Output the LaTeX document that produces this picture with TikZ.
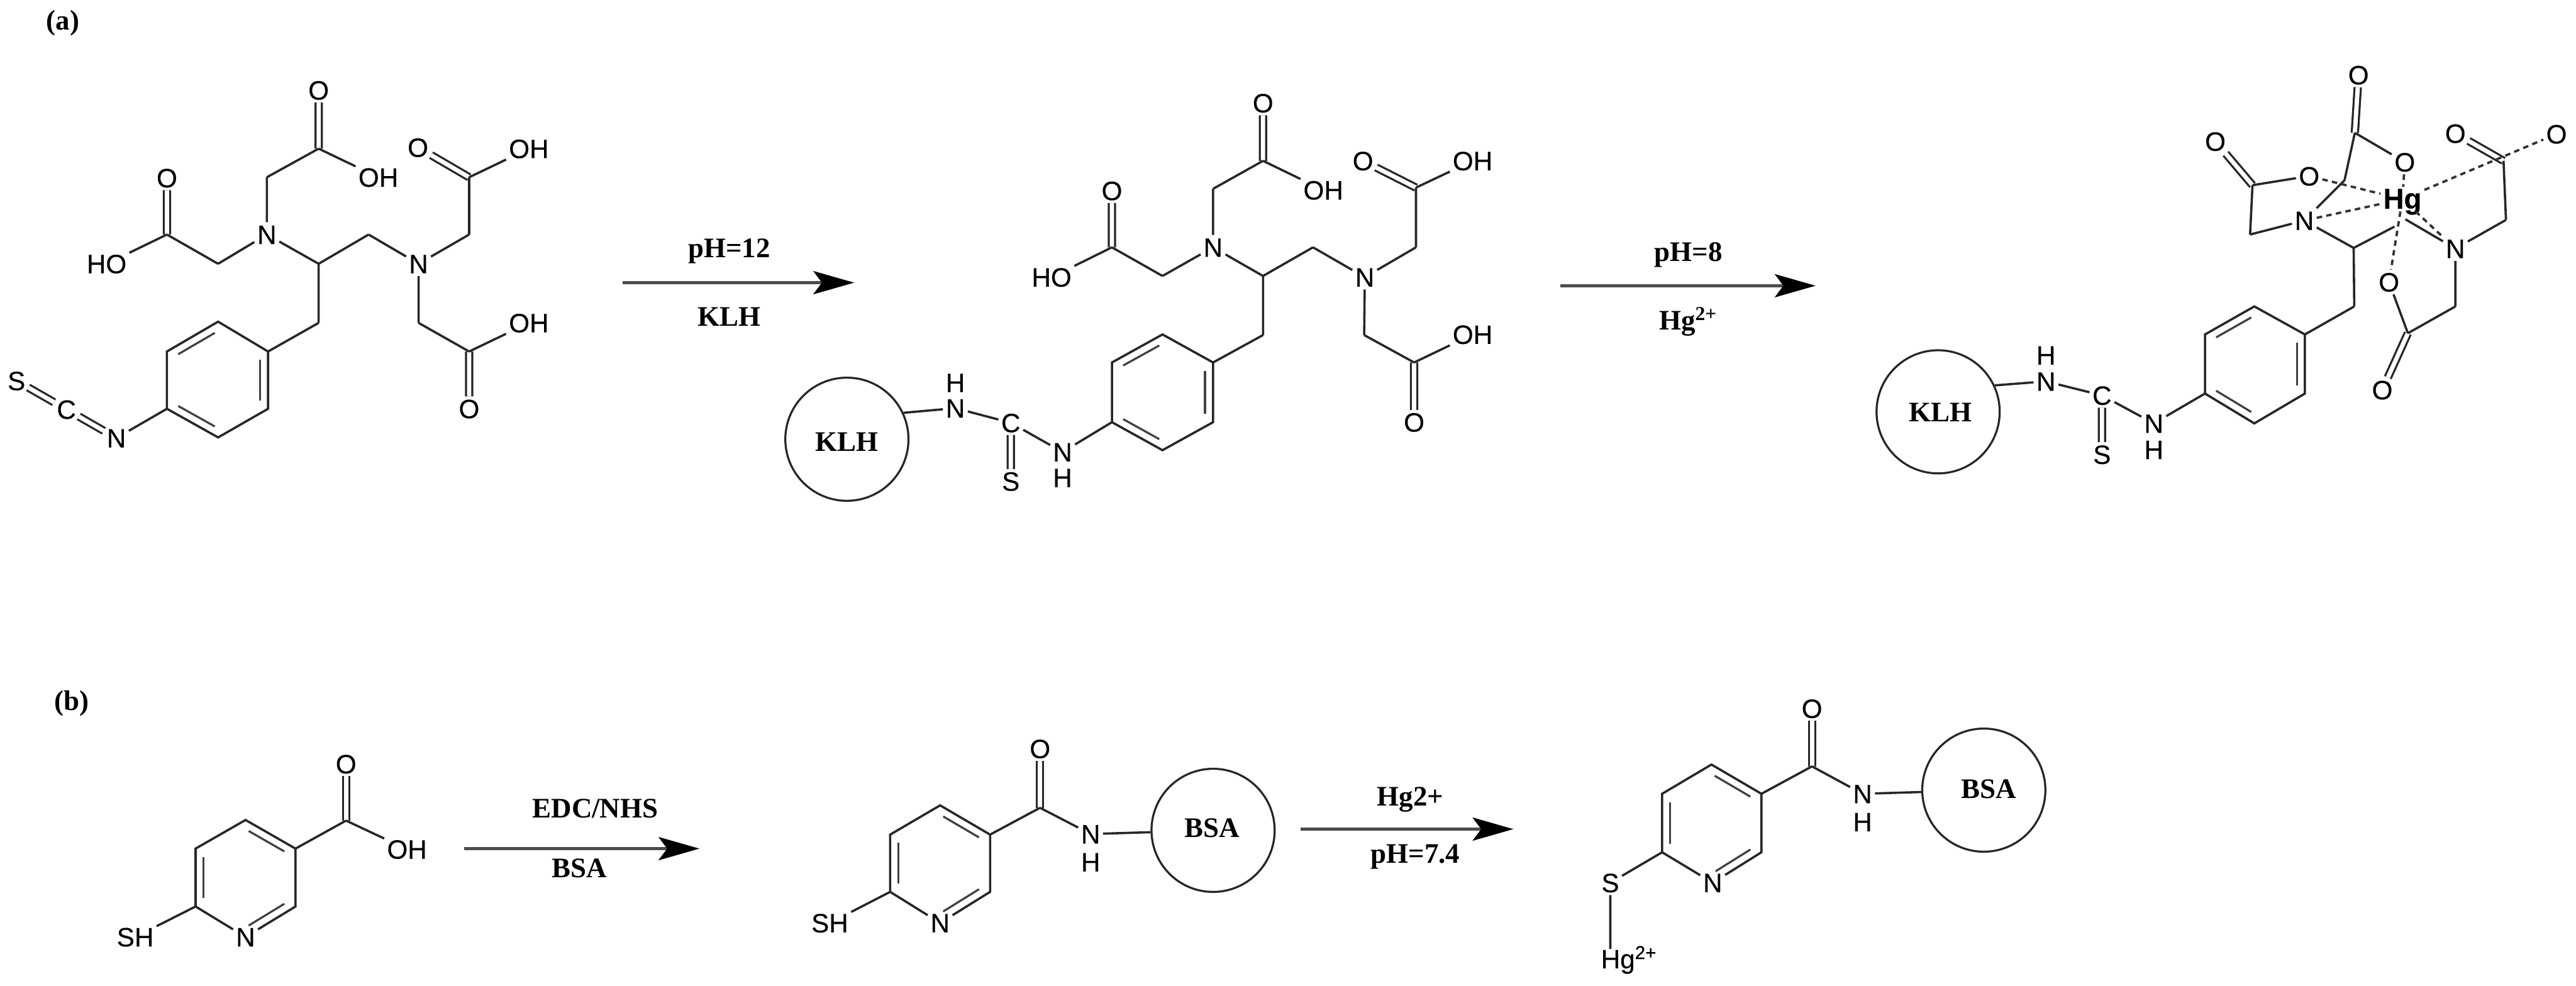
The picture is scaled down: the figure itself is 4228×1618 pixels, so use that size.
\documentclass[tikz,border=0pt]{standalone}
\usepackage{fontspec}
\setmainfont{Liberation Serif}
\newfontfamily\atomfont[FakeBold=0.35]{Liberation Sans}
\usetikzlibrary{
    arrows.meta,
    calc
}
\tikzset{
    bond/.style={line width=1.05pt, draw=black!85},
    dbl/.style={double=white, double distance=0.07cm, line width=0.95pt, draw=black!85},
    ringin/.style={line width=0.95pt, draw=black!75, shorten <=0.06cm, shorten >=0.06cm},
    coord/.style={line width=1.1pt, draw=black!80, dash pattern=on 0.09cm off 0.07cm},
    atom/.style={font=\atomfont\fontsize{12.4}{14}\selectfont, inner sep=0.04cm, text height=0.31cm, text depth=0pt},
    rgnt/.style={font=\bfseries\fontsize{13.2}{15}\selectfont, inner sep=0pt},
    prot/.style={circle, draw=black!85, line width=0.95pt, minimum size=2.02cm, inner sep=0pt},
    rxn/.style={line width=1.3pt, draw=black!70, -{Stealth[length=0.67cm, width=0.38cm, inset=0.14cm, black]}}
}
\begin{document}
\begin{tikzpicture}[x=0.01cm, y=-0.01cm]
    \useasboundingbox (0, 0) rectangle (4228, 1618);
    \node[rgnt] (tagA) at (103, 38) {(a)};
    \node[rgnt] (tagB) at (118, 1155) {(b)};
    \begin{scope}
        \node[atom] (otop) at (523, 148) {O};
        \coordinate (c1) at (523, 244);
        \node[atom] (oh1) at (621, 291) {OH};
        \coordinate (m1) at (438, 291);
        \node[atom] (n1) at (438, 385) {N};
        \coordinate (c2) at (274, 385);
        \node[atom] (o2) at (274, 292) {O};
        \node[atom] (ho2) at (175, 433) {HO};
        \coordinate (m2) at (358, 433);
        \coordinate (ch) at (523, 433);
        \coordinate (m3) at (605, 385);
        \node[atom] (n2) at (687, 433) {N};
        \coordinate (m4) at (770, 385);
        \coordinate (c3) at (770, 291);
        \node[atom] (o3) at (686, 242) {O};
        \node[atom] (oh3) at (868, 244) {OH};
        \coordinate (m5) at (687, 530);
        \coordinate (c4) at (770, 577);
        \node[atom] (oh4) at (868, 530) {OH};
        \node[atom] (o4) at (770, 671) {O};
        \coordinate (mb) at (523, 530);
        \coordinate (r1) at (440, 577);
        \coordinate (r2) at (358, 528);
        \coordinate (r3) at (274, 577);
        \coordinate (r4) at (274, 671);
        \coordinate (r5) at (358, 718);
        \coordinate (r6) at (440, 671);
        \coordinate (rc) at ($(r1)!0.5!(r4)$);
        \node[atom] (nb) at (191, 719) {N};
        \node[atom] (cb) at (109, 672) {C};
        \node[atom] (sb) at (27, 625) {S};
        \draw[dbl]
        (c1) -- (otop)
        (c2) -- (o2)
        (c3) -- (o3)
        (c4) -- (o4)
        (sb) -- (cb)
        (cb) -- (nb);
        \draw[bond]
        (c1) -- (oh1)
        (c1) -- (m1)
        (m1) -- (n1)
        (n1) -- (m2)
        (m2) -- (c2)
        (c2) -- (ho2)
        (n1) -- (ch)
        (ch) -- (m3)
        (m3) -- (n2)
        (n2) -- (m4)
        (m4) -- (c3)
        (c3) -- (oh3)
        (n2) -- (m5)
        (m5) -- (c4)
        (c4) -- (oh4)
        (ch) -- (mb)
        (mb) -- (r1)
        (r1) -- (r2) -- (r3) -- (r4) -- (r5) -- (r6) -- (r1)
        (r4) -- (nb);
        \foreach \a/\b in {r2/r3, r1/r6, r4/r5}
            \draw[ringin] ($(\a)!0.16!(rc)$) -- ($(\b)!0.16!(rc)$);
    \end{scope}
    \coordinate (a1s) at (1022, 464);
    \coordinate (a1e) at (1402, 464);
    \draw[rxn] (a1s) -- (a1e);
    \node[rgnt] (a1t) at (1197, 412) {pH=12};
    \node[rgnt] (a1b) at (1197, 520) {KLH};
    \begin{scope}
        \node[atom] (otop) at (2073, 169) {O};
        \coordinate (c1) at (2073, 264);
        \node[atom] (oh1) at (2172, 312) {OH};
        \coordinate (m1) at (1991, 310);
        \node[atom] (n1) at (1991, 406) {N};
        \coordinate (c2) at (1825, 406);
        \node[atom] (o2) at (1825, 313) {O};
        \node[atom] (ho2) at (1726, 455) {HO};
        \coordinate (m2) at (1908, 453);
        \coordinate (ch) at (2073, 453);
        \coordinate (m3) at (2155, 406);
        \node[atom] (n2) at (2240, 455) {N};
        \coordinate (m4) at (2324, 406);
        \coordinate (c3) at (2324, 308);
        \node[atom] (o3) at (2237, 264) {O};
        \node[atom] (oh3) at (2417, 264) {OH};
        \coordinate (m5) at (2239, 550);
        \coordinate (c4) at (2321, 595);
        \node[atom] (oh4) at (2417, 549) {OH};
        \node[atom] (o4) at (2321, 693) {O};
        \coordinate (mb) at (2073, 550);
        \coordinate (r1) at (1991, 595);
        \coordinate (r2) at (1908, 549);
        \coordinate (r3) at (1825, 595);
        \coordinate (r4) at (1825, 693);
        \coordinate (r5) at (1908, 739);
        \coordinate (r6) at (1991, 693);
        \coordinate (rc) at ($(r1)!0.5!(r4)$);
        \node[atom] (nl) at (1744, 742) {N};
        \node[atom] (hl) at (1744, 784) {H};
        \node[atom] (cu) at (1659, 694) {C};
        \node[atom] (su) at (1659, 790) {S};
        \node[atom] (nu) at (1568, 670) {N};
        \node[atom] (hu) at (1568, 628) {H};
        \node[prot] (klh) at (1390, 721) {};
        \node[rgnt] (klht) at (1390, 725) {KLH};
        \draw[dbl]
        (c1) -- (otop)
        (c2) -- (o2)
        (c3) -- (o3)
        (c4) -- (o4)
        (cu) -- (su);
        \draw[bond]
        (c1) -- (oh1)
        (c1) -- (m1)
        (m1) -- (n1)
        (n1) -- (m2)
        (m2) -- (c2)
        (c2) -- (ho2)
        (n1) -- (ch)
        (ch) -- (m3)
        (m3) -- (n2)
        (n2) -- (m4)
        (m4) -- (c3)
        (c3) -- (oh3)
        (n2) -- (m5)
        (m5) -- (c4)
        (c4) -- (oh4)
        (ch) -- (mb)
        (mb) -- (r1)
        (r1) -- (r2) -- (r3) -- (r4) -- (r5) -- (r6) -- (r1)
        (r4) -- (nl)
        (nl) -- (cu)
        (cu) -- (nu)
        (nu) -- (klh.25);
        \foreach \a/\b in {r2/r3, r1/r6, r4/r5}
            \draw[ringin] ($(\a)!0.16!(rc)$) -- ($(\b)!0.16!(rc)$);
    \end{scope}
    \coordinate (a2s) at (2561, 469);
    \coordinate (a2e) at (2980, 469);
    \draw[rxn] (a2s) -- (a2e);
    \node[rgnt] (a2t) at (2771, 418) {pH=8};
    \node[rgnt] (a2b) at (2771, 528) {Hg\textsuperscript{2+}};
    \begin{scope}
        \node[atom] (otop) at (3871, 123) {O};
        \coordinate (c1) at (3865, 218);
        \node[atom] (or) at (3947, 266) {O};
        \node[atom] (ol) at (3790, 289) {O};
        \coordinate (c2) at (3697, 304);
        \node[atom] (oll) at (3636, 232) {O};
        \coordinate (m2) at (3693, 385);
        \node[atom] (n1) at (3782, 362) {N};
        \coordinate (m1) at (3848, 296);
        \node[atom, font=\atomfont\bfseries\fontsize{13.4}{15}\selectfont] (hg) at (3943, 327) {Hg};
        \coordinate (ch) at (3863, 407);
        \coordinate (m3a) at (3930, 372);
        \coordinate (m3b) at (3948, 360);
        \node[atom] (n2) at (4030, 408) {N};
        \coordinate (m4) at (4113, 361);
        \coordinate (c3) at (4109, 264);
        \node[atom] (o3) at (4030, 219) {O};
        \node[atom] (o3r) at (4196, 220) {O};
        \coordinate (m5) at (4030, 503);
        \coordinate (c4) at (3952, 547);
        \node[atom] (o4) at (3921, 463) {O};
        \node[atom] (o4d) at (3910, 640) {O};
        \coordinate (mb) at (3864, 503);
        \coordinate (r1) at (3783, 549);
        \coordinate (r2) at (3700, 503);
        \coordinate (r3) at (3619, 549);
        \coordinate (r4) at (3619, 646);
        \coordinate (r5) at (3700, 695);
        \coordinate (r6) at (3783, 646);
        \coordinate (rc) at ($(r1)!0.5!(r4)$);
        \node[atom] (nl) at (3535, 695) {N};
        \node[atom] (hl) at (3535, 738) {H};
        \node[atom] (cu) at (3450, 649) {C};
        \node[atom] (su) at (3450, 746) {S};
        \node[atom] (nu) at (3358, 626) {N};
        \node[atom] (hu) at (3358, 583) {H};
        \node[prot] (klh) at (3181, 676) {};
        \node[rgnt] (klht) at (3185, 677) {KLH};
        \draw[dbl]
        (c1) -- (otop)
        (c2) -- (oll)
        (c3) -- (o3)
        (c4) -- (o4d)
        (cu) -- (su);
        \draw[bond]
        (c1) -- (or)
        (c1) -- (m1)
        (m1) -- (n1)
        (ol) -- (c2)
        (c2) -- (m2)
        (m2) -- (n1)
        (n1) -- (ch)
        (ch) -- (m3a)
        (m3b) -- (n2)
        (n2) -- (m4)
        (m4) -- (c3)
        (n2) -- (m5)
        (m5) -- (c4)
        (c4) -- (o4)
        (ch) -- (mb)
        (mb) -- (r1)
        (r1) -- (r2) -- (r3) -- (r4) -- (r5) -- (r6) -- (r1)
        (r4) -- (nl)
        (nl) -- (cu)
        (cu) -- (nu)
        (nu) -- (klh.25);
        \draw[coord]
        (ol) -- (hg)
        (n1) -- (hg)
        (or) -- (hg)
        (hg) -- (o3r)
        (hg) -- (n2)
        (hg) -- (o4);
        \foreach \a/\b in {r2/r3, r1/r6, r4/r5}
            \draw[ringin] ($(\a)!0.16!(rc)$) -- ($(\b)!0.16!(rc)$);
    \end{scope}
    \begin{scope}
        \node[atom] (otop) at (568, 1254) {O};
        \coordinate (c1) at (568, 1347);
        \node[atom] (oh1) at (668, 1394) {OH};
        \coordinate (r1) at (485, 1393);
        \coordinate (r2) at (403, 1346);
        \coordinate (r3) at (321, 1393);
        \coordinate (r4) at (321, 1488);
        \node[atom] (rn) at (403, 1538) {N};
        \coordinate (r6) at (485, 1488);
        \coordinate (rc) at ($(r1)!0.5!(r4)$);
        \node[atom] (sh) at (222, 1538) {SH};
        \draw[dbl] (c1) -- (otop);
        \draw[bond]
        (c1) -- (oh1)
        (c1) -- (r1)
        (r1) -- (r2) -- (r3) -- (r4) -- (rn) -- (r6) -- (r1)
        (r4) -- (sh);
        \foreach \a/\b in {r1/r2, r3/r4, r6/rn}
            \draw[ringin] ($(\a)!0.16!(rc)$) -- ($(\b)!0.16!(rc)$);
    \end{scope}
    \coordinate (b1s) at (762, 1393);
    \coordinate (b1e) at (1148, 1393);
    \draw[rxn] (b1s) -- (b1e);
    \node[rgnt] (b1t) at (977, 1327) {EDC/NHS};
    \node[rgnt] (b1b) at (951, 1425) {BSA};
    \begin{scope}
        \node[atom] (otop) at (1707, 1229) {O};
        \coordinate (c1) at (1707, 1326);
        \node[atom] (nh) at (1790, 1369) {N};
        \node[atom] (hh) at (1790, 1415) {H};
        \coordinate (r1) at (1625, 1370);
        \coordinate (r2) at (1543, 1322);
        \coordinate (r3) at (1461, 1370);
        \coordinate (r4) at (1461, 1464);
        \node[atom] (rn) at (1543, 1515) {N};
        \coordinate (r6) at (1625, 1464);
        \coordinate (rc) at ($(r1)!0.5!(r4)$);
        \node[atom] (sh) at (1362, 1515) {SH};
        \node[prot] (bsa) at (1991, 1363) {};
        \node[rgnt] (bsat) at (1989, 1359) {BSA};
        \draw[dbl] (c1) -- (otop);
        \draw[bond]
        (c1) -- (nh)
        (c1) -- (r1)
        (r1) -- (r2) -- (r3) -- (r4) -- (rn) -- (r6) -- (r1)
        (r4) -- (sh)
        (nh) -- (bsa);
        \foreach \a/\b in {r1/r2, r3/r4, r6/rn}
            \draw[ringin] ($(\a)!0.16!(rc)$) -- ($(\b)!0.16!(rc)$);
    \end{scope}
    \coordinate (b2s) at (2135, 1361);
    \coordinate (b2e) at (2484, 1361);
    \draw[rxn] (b2s) -- (b2e);
    \node[rgnt] (b2t) at (2315, 1313) {Hg2+};
    \node[rgnt] (b2b) at (2323, 1406) {pH=7.4};
    \begin{scope}
        \node[atom] (otop) at (2974, 1163) {O};
        \coordinate (c1) at (2974, 1258);
        \node[atom] (nh) at (3057, 1303) {N};
        \node[atom] (hh) at (3057, 1349) {H};
        \coordinate (r1) at (2891, 1303);
        \coordinate (r2) at (2809, 1255);
        \coordinate (r3) at (2728, 1303);
        \coordinate (r4) at (2728, 1399);
        \node[atom] (rn) at (2811, 1449) {N};
        \coordinate (r6) at (2891, 1399);
        \coordinate (rc) at ($(r1)!0.5!(r4)$);
        \node[atom] (sb) at (2643, 1449) {S};
        \node[atom, anchor=west, inner sep=0pt] (hgb) at (2627, 1574) {Hg\textsuperscript{2+}};
        \node[prot] (bsa) at (3256, 1297) {};
        \node[rgnt] (bsat) at (3264, 1295) {BSA};
        \draw[dbl] (c1) -- (otop);
        \draw[bond]
        (c1) -- (nh)
        (c1) -- (r1)
        (r1) -- (r2) -- (r3) -- (r4) -- (rn) -- (r6) -- (r1)
        (r4) -- (sb)
        (sb) -- (sb |- hgb.north)
        (nh) -- (bsa);
        \foreach \a/\b in {r1/r2, r3/r4, r6/rn}
            \draw[ringin] ($(\a)!0.16!(rc)$) -- ($(\b)!0.16!(rc)$);
    \end{scope}
\end{tikzpicture}
\end{document}
